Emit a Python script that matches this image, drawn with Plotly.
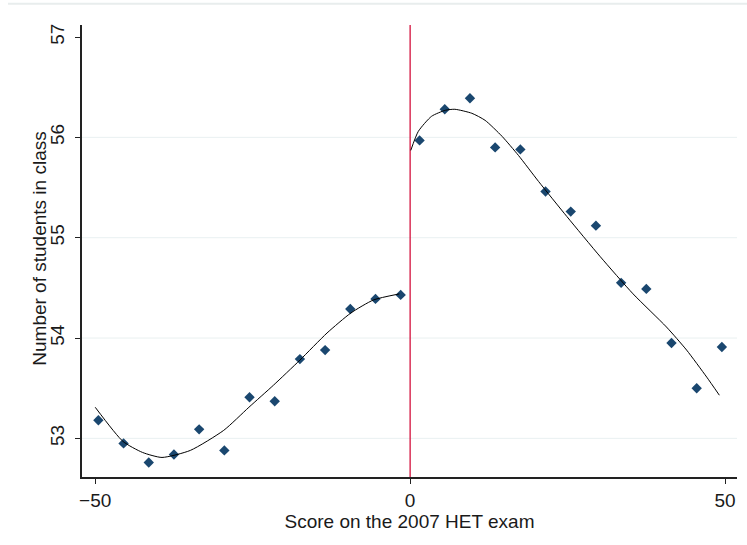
import plotly.graph_objects as go

# Binned means (bin centers) left and right of the cutoff
x_left = [-49.5, -45.5, -41.5, -37.5, -33.5, -29.5, -25.5, -21.5, -17.5, -13.5, -9.5, -5.5, -1.5]
y_left = [53.18, 52.95, 52.76, 52.84, 53.09, 52.88, 53.41, 53.37, 53.79, 53.88, 54.29, 54.39, 54.43]
x_right = [1.5, 5.5, 9.5, 13.5, 17.5, 21.5, 25.5, 29.5, 33.5, 37.5, 41.5, 45.5, 49.5]
y_right = [55.97, 56.28, 56.39, 55.90, 55.88, 55.46, 55.26, 55.12, 54.55, 54.49, 53.95, 53.50, 53.91]

# Fitted polynomial curves
fit_left_x = [-50.0, -45.6, -42.5, -39.4, -34.9, -29.6, -25.6, -21.7, -17.5, -13.2, -9.4, -5.8, -1.7]
fit_left_y = [53.31, 52.97, 52.86, 52.81, 52.88, 53.08, 53.31, 53.53, 53.78, 54.05, 54.25, 54.38, 54.44]
fit_right_x = [0.1, 1.3, 3.4, 5.6, 7.1, 9.8, 11.9, 14.6, 17.2, 20.4, 24.9, 30.2, 35.4, 40.7, 43.9, 47.1, 49.1]
fit_right_y = [55.87, 56.06, 56.21, 56.27, 56.28, 56.24, 56.17, 56.01, 55.82, 55.56, 55.21, 54.81, 54.44, 54.11, 53.88, 53.61, 53.43]

x_ticks = [-50, 0, 50]
y_ticks = [53, 54, 55, 56, 57]
grid_vals = [53, 54, 55, 56]
cutoff = 0

FONT = "Liberation Sans, Arial, sans-serif"
NAVY = "#1a476f"

fig = go.Figure()
for gv in grid_vals:
    fig.add_hline(y=gv, line=dict(color="#e9f0f1", width=1), layer="below")

fig.add_vline(x=cutoff, line=dict(color="#d4103c", width=1.3), layer="below")

for xs, ys in [(x_left, y_left), (x_right, y_right)]:
    fig.add_trace(go.Scatter(x=xs, y=ys, mode="markers",
                             marker=dict(symbol="diamond", size=8, color=NAVY),
                             showlegend=False, cliponaxis=False))
for xs, ys in [(fit_left_x, fit_left_y), (fit_right_x, fit_right_y)]:
    fig.add_trace(go.Scatter(x=xs, y=ys, mode="lines",
                             line=dict(color="black", width=1, shape="spline", smoothing=0.6),
                             showlegend=False))

# faint page border line at top
fig.add_shape(type="line", xref="paper", yref="paper", x0=-0.113, x1=1.02, y0=1.047, y1=1.047,
              line=dict(color="#e8eded", width=2))

# y-axis title as annotation for precise placement
fig.add_annotation(text="Number of students in class", xref="paper", yref="paper",
                   x=0, y=0.505, xanchor="center", yanchor="middle", xshift=-42,
                   textangle=-90, showarrow=False, font=dict(size=19))

fig.update_layout(
    width=747, height=545,
    margin=dict(l=82, r=10, t=25, b=68, autoexpand=False),
    paper_bgcolor="white", plot_bgcolor="white",
    font=dict(family=FONT, size=19, color="#1a1a1a"),
    showlegend=False,
    xaxis=dict(range=[-52.1, 51.9], tickvals=x_ticks, ticks="outside", ticklen=5,
               tickcolor="#222", showline=True, linecolor="#222", linewidth=1.5,
               showgrid=False, zeroline=False, automargin=False,
               title=dict(text="Score on the 2007 HET exam", standoff=0,
                          font=dict(size=19)),
               tickfont=dict(size=19)),
    yaxis=dict(range=[52.615, 57.12], tickvals=y_ticks, ticks="outside", ticklen=5,
               tickcolor="#222", showline=True, linecolor="#222", linewidth=1.5,
               showgrid=False, zeroline=False, tickangle=-90, automargin=False,
               ticklabelstandoff=4,
               tickfont=dict(size=19)),
)

fig.write_html("out.html", config={"displayModeBar": False},
               post_script="document.body.style.margin='0px';")
